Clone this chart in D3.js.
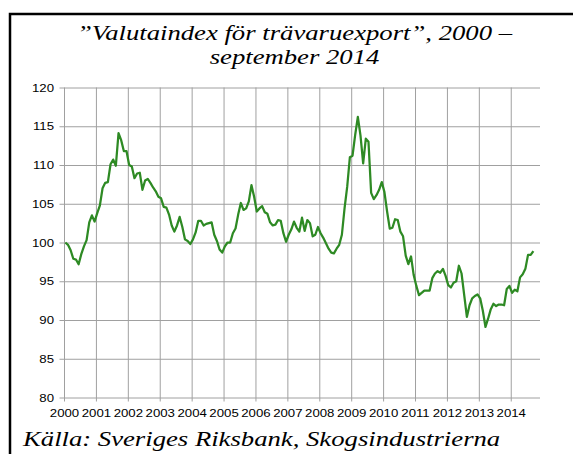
<!DOCTYPE html>
<html>
<head>
<meta charset="utf-8">
<script src="https://cdn.jsdelivr.net/npm/d3@7"></script>
<style>
  body { margin: 0; background: #fff; }
  svg { display: block; }
</style>
</head>
<body>
<div id="chart"></div>
<script>
'use strict';

// Valutaindex för trävaruexport, monthly, jan 2000 - sep 2014
const years = ['2000', '2001', '2002', '2003', '2004', '2005', '2006', '2007',
  '2008', '2009', '2010', '2011', '2012', '2013', '2014'];
const yTicks = [80, 85, 90, 95, 100, 105, 110, 115, 120];

const v2000 = [100.0, 99.7, 99.0, 97.9, 97.8, 97.2, 98.5, 99.5, 100.3, 102.6, 103.5, 102.7];
const v2001 = [103.8, 104.8, 107.0, 107.7, 107.8, 110.1, 110.7, 109.9, 114.1, 113.2, 111.8, 111.8];
const v2002 = [110.0, 109.8, 108.3, 108.9, 109.0, 106.8, 108.0, 108.2, 107.7, 107.1, 106.6, 105.9];
const v2003 = [105.7, 104.6, 104.5, 103.6, 102.2, 101.4, 102.2, 103.3, 102.0, 100.4, 100.2, 99.8];
const v2004 = [100.4, 101.3, 102.8, 102.8, 102.2, 102.4, 102.5, 102.6, 101.0, 100.2, 99.1, 98.7];
const v2005 = [99.5, 100.0, 100.0, 101.2, 101.8, 103.6, 105.1, 104.2, 104.4, 105.3, 107.4, 105.9];
const v2006 = [104.0, 104.4, 104.7, 103.9, 103.7, 102.6, 102.2, 102.3, 102.9, 102.8, 101.2, 100.1];
const v2007 = [101.0, 101.7, 102.7, 101.9, 101.4, 103.2, 101.5, 102.9, 102.5, 100.8, 101.0, 102.0];
const v2008 = [101.2, 100.6, 99.9, 99.2, 98.7, 98.6, 99.2, 99.7, 101.0, 104.4, 107.2, 111.0];
const v2009 = [111.2, 113.9, 116.2, 113.8, 110.2, 113.4, 113.0, 106.4, 105.6, 106.1, 106.8, 107.8];
const v2010 = [106.5, 104.0, 101.8, 101.9, 103.0, 102.9, 101.4, 100.8, 98.3, 97.2, 98.2, 95.8];
const v2011 = [94.4, 93.2, 93.5, 93.8, 93.8, 93.8, 95.4, 96.0, 96.3, 96.1, 96.6, 95.7];
const v2012 = [94.5, 94.2, 94.8, 95.0, 97.0, 96.0, 93.2, 90.4, 91.9, 92.8, 93.1, 93.3];
const v2013 = [92.8, 91.2, 89.1, 90.2, 91.4, 92.1, 91.8, 92.0, 92.0, 91.9, 94.0, 94.4];
const v2014 = [93.5, 93.9, 93.7, 95.5, 95.9, 96.6, 98.4, 98.4, 98.9];

const values = [].concat(v2000, v2001, v2002, v2003, v2004, v2005, v2006,
  v2007, v2008, v2009, v2010, v2011, v2012, v2013, v2014);

const width = 573;
const height = 454;
const plot = {left: 64, right: 540, top: 87.5, bottom: 397.5};

// the picture is a little wider than tall, so the text is stretched sideways
const textStretch = 1.2;

function stretch(sel, k) {
  sel.each(function() {
    const w = this.getComputedTextLength();
    d3.select(this)
      .attr('textLength', w * k)
      .attr('lengthAdjust', 'spacingAndGlyphs');
  });
}

const svg = d3.select('#chart')
  .append('svg')
  .attr('width', width)
  .attr('height', height);

// frame round the chart (only left and top edges are inside the picture)
svg.append('path')
  .attr('d', `M10,${height} V14 H${width}`)
  .attr('fill', 'none')
  .attr('stroke', '#000')
  .attr('stroke-width', 2.5);

const x = d3.scaleLinear()
  .domain([0, 179])
  .range([plot.left, plot.right]);

const y = d3.scaleLinear()
  .domain([80, 120])
  .range([plot.bottom, plot.top]);

// horizontal gridlines + y labels
const yAxis = svg.append('g')
  .attr('transform', `translate(${plot.left - 4.5},0)`)
  .call(d3.axisLeft(y)
    .tickValues(yTicks)
    .tickSize(-(plot.right - plot.left + 4.5))
    .tickPadding(5.5)
    .tickFormat(d3.format('d')));

// vertical gridlines + year labels
const xAxis = svg.append('g')
  .attr('transform', `translate(0,${plot.bottom + 4})`)
  .call(d3.axisBottom(x)
    .tickValues(years.map((d, i) => i * 12))
    .tickSize(-(plot.bottom + 4 - plot.top))
    .tickPadding(8)
    .tickFormat((d, i) => years[i]));

for (const axis of [xAxis, yAxis]) {
  axis.select('.domain').remove();
  axis.selectAll('line')
    .attr('stroke', '#a0a0a0')
    .attr('stroke-width', 1);
  axis.selectAll('text')
    .attr('fill', '#000')
    .attr('font-family', '"Liberation Sans", Arial, sans-serif')
    .attr('font-size', '11px')
    .call(stretch, textStretch);
}

const line = d3.line()
  .x((d, i) => x(i + 0.5))
  .y(d => y(d));

svg.append('path')
  .datum(values)
  .attr('d', line)
  .attr('fill', 'none')
  .attr('stroke', '#2e8a24')
  .attr('stroke-width', 2.25)
  .attr('stroke-linejoin', 'round');

const serif = '"Liberation Serif", "Times New Roman", Times, "DejaVu Serif", serif';

const title1 = svg.append('text')
  .attr('x', 294.5)
  .attr('y', 39.5)
  .attr('text-anchor', 'middle')
  .attr('font-family', serif)
  .attr('font-style', 'italic')
  .attr('font-size', '22px')
  .text('”Valutaindex för trävaruexport”, 2000 –');

// stretch of the title decides the stretch of the other serif lines
const titleK = 435 / title1.node().getComputedTextLength();
title1.call(stretch, titleK);

svg.append('text')
  .attr('x', 294.5)
  .attr('y', 64)
  .attr('text-anchor', 'middle')
  .attr('font-family', serif)
  .attr('font-style', 'italic')
  .attr('font-size', '22px')
  .text('september 2014')
  .call(stretch, titleK);

svg.append('text')
  .attr('x', 23)
  .attr('y', 446)
  .attr('font-family', serif)
  .attr('font-style', 'italic')
  .attr('font-size', '22px')
  .text('Källa: Sveriges Riksbank, Skogsindustrierna')
  .call(stretch, titleK);
</script>
</body>
</html>
